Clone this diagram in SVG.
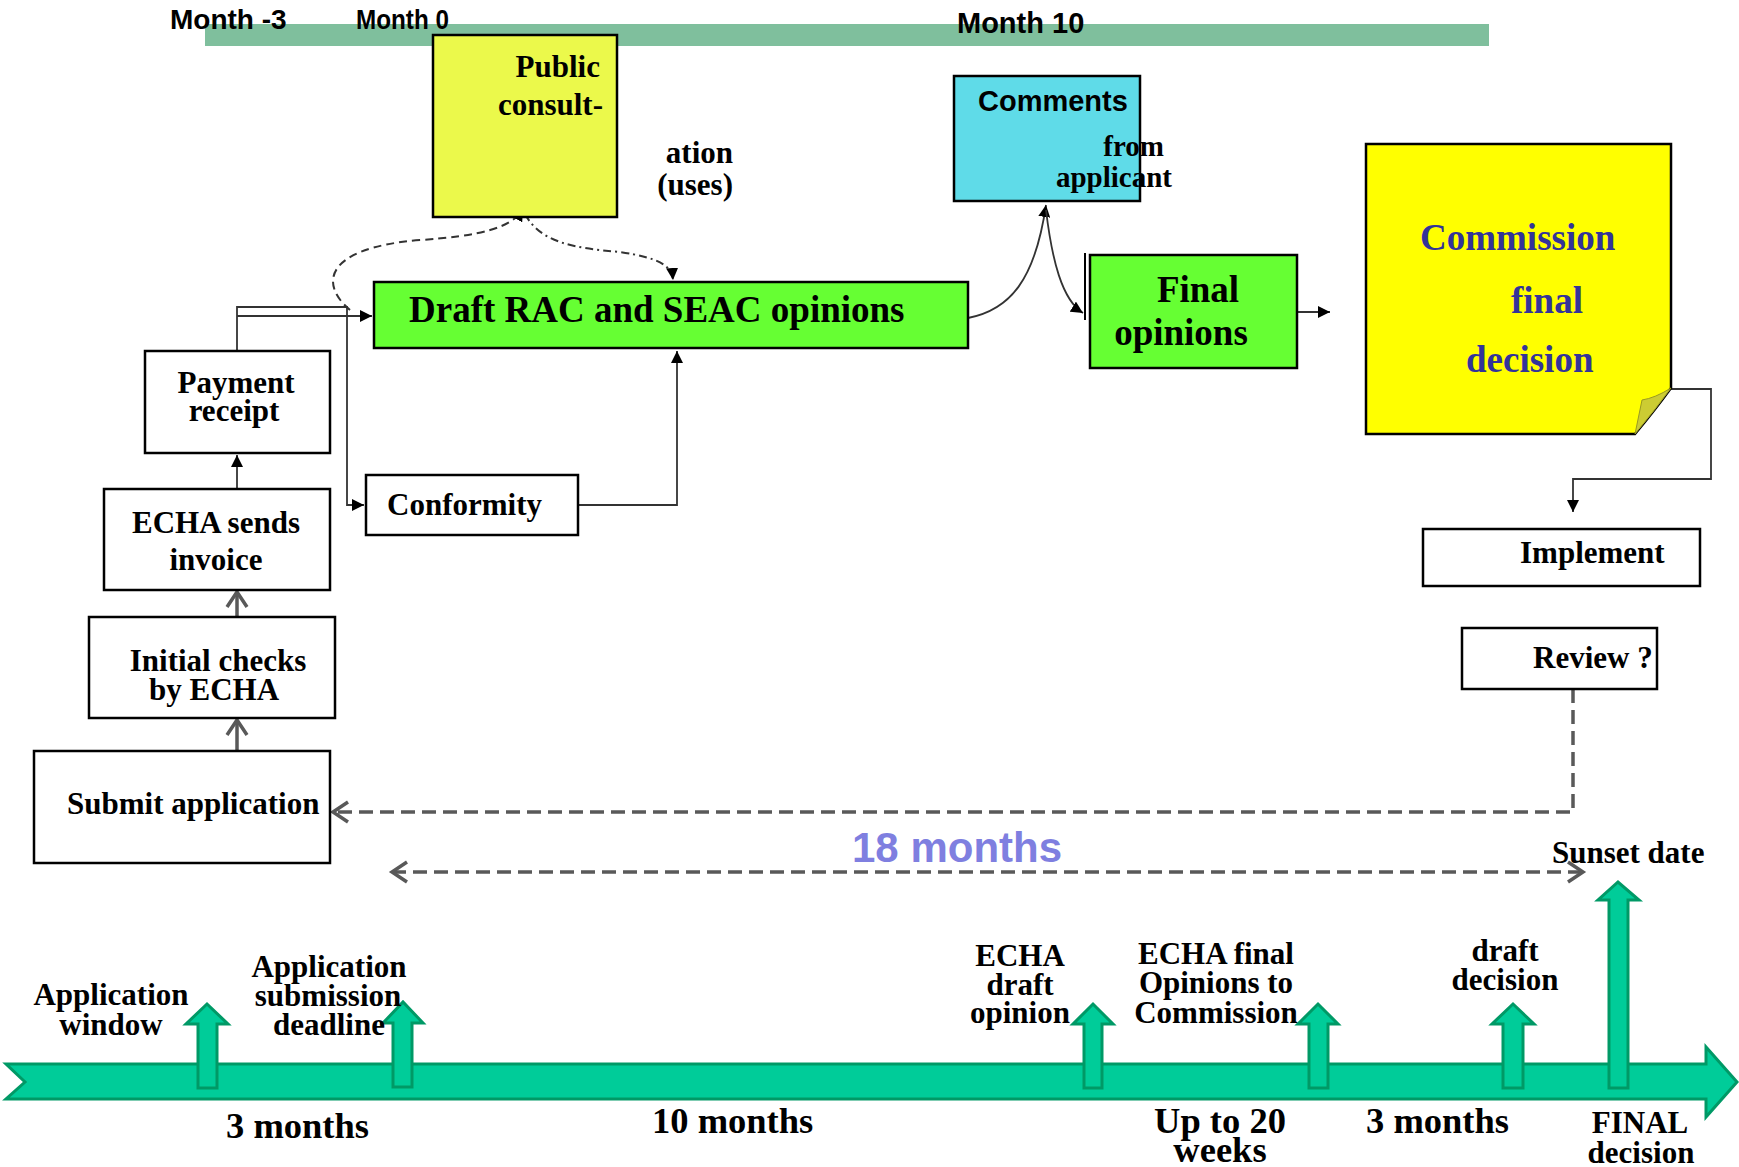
<svg xmlns="http://www.w3.org/2000/svg" width="1739" height="1167" viewBox="0 0 1739 1167">
<style>
.serif{font-family:"Liberation Serif","Times New Roman",serif;font-weight:bold;fill:#000}
.sans{font-family:"Liberation Sans",Arial,sans-serif;font-weight:bold;fill:#000}
.box{stroke:#000;stroke-width:2.5}
.conn{fill:none;stroke:#333;stroke-width:1.8}
.gray{fill:none;stroke:#595959;stroke-width:3.5}
.dash{fill:none;stroke:#595959;stroke-width:3.5;stroke-dasharray:14 7}
.teal{fill:#00cc99;stroke:#009966;stroke-width:3}
</style>
<defs>
<marker id="tri" markerUnits="userSpaceOnUse" markerWidth="14" markerHeight="12" refX="12" refY="6" orient="auto"><path d="M0,0 L12,6 L0,12 Z" fill="#000"/></marker>
<marker id="chev" markerUnits="userSpaceOnUse" markerWidth="22" markerHeight="24" refX="18" refY="12" orient="auto-start-reverse"><path d="M3,2 L18,12 L3,22" fill="none" stroke="#595959" stroke-width="3.5"/></marker>
</defs>

<!-- top timeline bar -->
<g id="topbar">
<rect x="205" y="24" width="1284" height="22" fill="#7fbf9d"/>
<text class="sans" x="170" y="29" font-size="28">Month -3</text>
<text class="sans" x="356" y="29" font-size="28" textLength="93" lengthAdjust="spacingAndGlyphs">Month 0</text>
<text class="sans" x="957" y="33" font-size="29">Month 10</text>
</g>

<g id="connectors">
<path class="conn" d="M237,489 V455" marker-end="url(#tri)"/>
<path class="conn" d="M237,351 V307 H347 V505 H364" marker-end="url(#tri)"/>
<path class="conn" d="M237,316 H372" marker-end="url(#tri)"/>
<path class="conn" d="M578,505 H677 V351" marker-end="url(#tri)"/>
<path fill="none" stroke="#333" stroke-width="2" stroke-dasharray="8 5" d="M350,310 C320,285 322,248 420,240 C480,236 512,228 523,209" marker-end="url(#tri)"/>
<path fill="none" stroke="#333" stroke-width="2" stroke-dasharray="8 4 2 4" d="M525,214 C540,242 572,248 620,252 C660,258 672,266 673,280" marker-end="url(#tri)"/>
<path class="conn" d="M968,318 C1010,310 1035,280 1046,205" marker-end="url(#tri)"/>
<path class="conn" d="M1046,210 C1052,260 1062,300 1083,313" marker-end="url(#tri)"/>
<path class="conn" d="M1297,312 H1330" marker-end="url(#tri)"/>
<path class="conn" d="M1671,389 H1711 V479 H1573 V512" marker-end="url(#tri)"/>
<path class="gray" d="M237,751 V720" marker-end="url(#chev)"/>
<path class="gray" d="M237,617 V592" marker-end="url(#chev)"/>
<path class="dash" d="M1573,689 V812 H333" marker-end="url(#chev)"/>
<path class="dash" d="M392,872 H1583" marker-start="url(#chev)" marker-end="url(#chev)"/>
</g>

<g id="public-consultation">
<rect class="box" x="433" y="35" width="184" height="182" fill="#ebf94b"/>
<text class="serif" font-size="31" text-anchor="end"><tspan x="600" y="77">Public</tspan><tspan x="603" y="115">consult-</tspan></text>
<text class="serif" font-size="31" text-anchor="end"><tspan x="733" y="163">ation</tspan><tspan x="733" y="195">(uses)</tspan></text>
</g>

<g id="draft-opinions">
<rect class="box" x="374" y="282" width="594" height="66" fill="#66ff33"/>
<text class="serif" x="409" y="322" font-size="37">Draft RAC and SEAC opinions</text>
</g>

<g id="comments">
<rect class="box" x="954" y="76" width="186" height="125" fill="#5fdbe8"/>
<text class="sans" x="978" y="111" font-size="29">Comments</text>
<text class="serif" font-size="29" text-anchor="end"><tspan x="1164" y="156">from</tspan><tspan x="1172" y="187">applicant</tspan></text>
</g>

<g id="final-opinions">
<line x1="1085" y1="253" x2="1085" y2="320" stroke="#000" stroke-width="2"/>
<rect class="box" x="1090" y="255" width="207" height="113" fill="#66ff33"/>
<text class="serif" font-size="37" text-anchor="middle"><tspan x="1198" y="302">Final</tspan><tspan x="1181" y="345">opinions</tspan></text>
</g>

<g id="commission-decision">
<path d="M1366,144 H1671 V388 Q1655,410 1635,434 H1366 Z" fill="#ffff00" stroke="#000" stroke-width="2.5"/>
<path d="M1671,388 Q1655,398 1642,400 L1635,434 Q1655,410 1671,388 Z" fill="#cccc33" stroke="#999922" stroke-width="1"/>
<text class="serif" font-size="37" style="fill:#333399"><tspan x="1420" y="250">Commission</tspan><tspan x="1511" y="313">final</tspan><tspan x="1466" y="372">decision</tspan></text>
</g>

<g id="payment-receipt">
<rect class="box" x="145" y="351" width="185" height="102" fill="#fff"/>
<text class="serif" font-size="31" text-anchor="middle"><tspan x="236" y="393">Payment</tspan><tspan x="234" y="421">receipt</tspan></text>
</g>

<g id="echa-invoice">
<rect class="box" x="104" y="489" width="226" height="101" fill="#fff"/>
<text class="serif" font-size="31" text-anchor="middle"><tspan x="216" y="533">ECHA sends</tspan><tspan x="216" y="570">invoice</tspan></text>
</g>

<g id="initial-checks">
<rect class="box" x="89" y="617" width="246" height="101" fill="#fff"/>
<text class="serif" font-size="31" text-anchor="middle"><tspan x="218" y="671">Initial checks</tspan><tspan x="214" y="700">by ECHA</tspan></text>
</g>

<g id="submit-application">
<rect class="box" x="34" y="751" width="296" height="112" fill="#fff"/>
<text class="serif" x="67" y="814" font-size="31">Submit application</text>
</g>

<g id="conformity">
<rect class="box" x="366" y="475" width="212" height="60" fill="#fff"/>
<text class="serif" x="387" y="515" font-size="31">Conformity</text>
</g>

<g id="implement">
<rect class="box" x="1423" y="529" width="277" height="57" fill="#fff"/>
<text class="serif" x="1520" y="563" font-size="31">Implement</text>
</g>

<g id="review">
<rect class="box" x="1462" y="628" width="195" height="61" fill="#fff"/>
<text class="serif" x="1533" y="668" font-size="31">Review ?</text>
</g>

<g id="duration-labels">
<text class="sans" x="852" y="862" font-size="42" style="fill:#7f7fe0">18 months</text>
<text class="serif" x="1552" y="863" font-size="31">Sunset date</text>
</g>

<g id="timeline">
<polygon class="teal" points="6,1064 1706,1064 1706,1047 1737,1082 1706,1117 1706,1099 6,1099 25,1082"/>
<polygon class="teal" points="198,1088 198,1024 186,1024 207,1004 228,1024 217,1024 217,1088"/>
<polygon class="teal" points="393,1087 393,1023 383,1023 403,1002 423,1023 412,1023 412,1087"/>
<polygon class="teal" points="1084,1088 1084,1024 1073,1024 1093,1004 1113,1024 1102,1024 1102,1088"/>
<polygon class="teal" points="1309,1088 1309,1024 1298,1024 1318,1004 1338,1024 1328,1024 1328,1088"/>
<polygon class="teal" points="1503,1088 1503,1024 1492,1024 1513,1004 1534,1024 1523,1024 1523,1088"/>
<polygon class="teal" points="1609,1088 1609,900 1598,900 1618,882 1639,900 1628,900 1628,1088"/>
</g>

<g id="timeline-labels">
<text class="serif" font-size="31" text-anchor="middle"><tspan x="111" y="1005">Application</tspan><tspan x="111" y="1035">window</tspan></text>
<text class="serif" font-size="31" text-anchor="middle"><tspan x="329" y="977">Application</tspan><tspan x="328" y="1006">submission</tspan><tspan x="329" y="1035">deadline</tspan></text>
<text class="serif" font-size="31" text-anchor="middle"><tspan x="1020" y="966">ECHA</tspan><tspan x="1020" y="995">draft</tspan><tspan x="1020" y="1023">opinion</tspan></text>
<text class="serif" font-size="31" text-anchor="middle"><tspan x="1216" y="964">ECHA final</tspan><tspan x="1216" y="993">Opinions to</tspan><tspan x="1216" y="1023">Commission</tspan></text>
<text class="serif" font-size="31" text-anchor="middle"><tspan x="1505" y="961">draft</tspan><tspan x="1505" y="990">decision</tspan></text>
<text class="serif" x="226" y="1138" font-size="36.5">3 months</text>
<text class="serif" x="652" y="1133" font-size="36.5">10 months</text>
<text class="serif" font-size="36.5" text-anchor="middle"><tspan x="1220" y="1133">Up to 20</tspan><tspan x="1220" y="1162">weeks</tspan></text>
<text class="serif" x="1366" y="1133" font-size="36.5">3 months</text>
<text class="serif" font-size="31" text-anchor="middle"><tspan x="1640" y="1133">FINAL</tspan><tspan x="1641" y="1163">decision</tspan></text>
</g>
</svg>
